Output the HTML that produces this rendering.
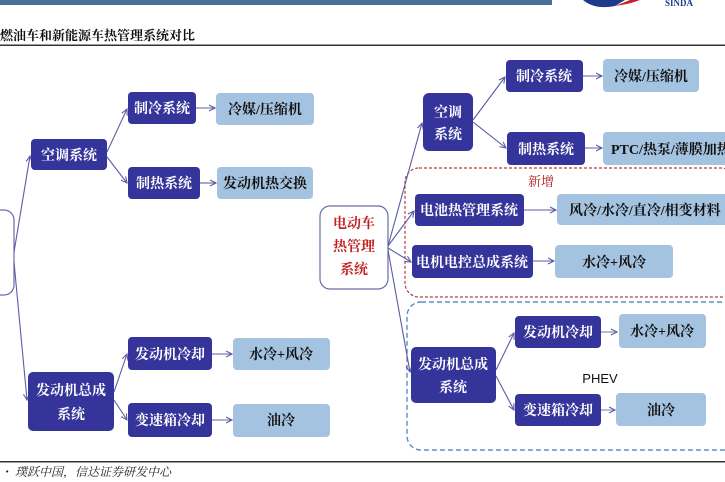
<!DOCTYPE html>
<html><head><meta charset="utf-8"><style>
html,body{margin:0;padding:0;background:#fff;width:725px;height:482px;overflow:hidden}
svg{display:block}
text{font-family:"Liberation Serif","Noto Serif CJK SC","Noto Sans CJK SC",serif;font-size:14px}
.d{fill:#34349a}
.l{fill:#a4c3e0}
.w{fill:#fff;font-weight:bold}
.k{fill:#111;font-weight:bold}
.c{stroke:#5c5ca6;stroke-width:1.1;fill:none;marker-end:url(#a)}
</style></head><body>
<svg width="725" height="482" viewBox="0 0 725 482" xmlns="http://www.w3.org/2000/svg">
<defs><marker id="a" markerWidth="8" markerHeight="8" refX="7" refY="4" orient="auto" markerUnits="userSpaceOnUse"><path d="M1,1 L7,4 L1,7" fill="none" stroke="#5c5ca6" stroke-width="1.1"/></marker></defs>
<rect x="0" y="0" width="552" height="5" fill="#4a6e9a"/>
<path d="M583,0 Q595,10 615,6 L625,0 Z" fill="#1e3a8a"/>
<path d="M615,6 Q630,4 640,0 L630,0 Z" fill="#c8202a"/>
<text x="665" y="6" style="font-size:9px;fill:#1e3a8a;font-weight:bold">SINDA</text>
<text x="0" y="40" style="font-size:13px;fill:#111;font-weight:bold">燃油车和新能源车热管理系统对比</text>
<rect x="0" y="44.5" width="725" height="1.5" fill="#333"/>
<rect x="0" y="461" width="725" height="1.5" fill="#333"/>
<text x="0" y="476" style="font-size:12px;fill:#222;font-style:italic">・ 璞跃中国，信达证券研发中心</text>

<!-- left -->
<rect x="-20" y="210" width="34" height="85" rx="10" fill="#fff" stroke="#6a6aa8" stroke-width="1.2"/>
<path class="c" d="M14,252 L30,156"/>
<path class="c" d="M14,262 L27,400"/>
<rect class="d" x="31" y="139" width="76" height="31" rx="4"/><text class="w" x="69" y="160" text-anchor="middle">空调系统</text>
<path class="c" d="M107,152 L127,109"/>
<path class="c" d="M107,157 L127,183"/>
<rect class="d" x="128" y="92" width="68" height="32" rx="4"/><text class="w" x="162" y="113" text-anchor="middle">制冷系统</text>
<rect class="d" x="128" y="167" width="72" height="32" rx="4"/><text class="w" x="164" y="188" text-anchor="middle">制热系统</text>
<path class="c" d="M196,108 L215,108"/>
<path class="c" d="M200,183 L216,183"/>
<rect class="l" x="216" y="93" width="98" height="32" rx="4"/><text class="k" x="265" y="114" text-anchor="middle">冷媒/压缩机</text>
<rect class="l" x="217" y="167" width="96" height="32" rx="4"/><text class="k" x="265" y="188" text-anchor="middle">发动机热交换</text>
<rect class="d" x="28" y="372" width="86" height="59" rx="5"/><text class="w" x="71" y="395" text-anchor="middle">发动机总成</text><text class="w" x="71" y="419" text-anchor="middle">系统</text>
<path class="c" d="M114,392 L127,354"/>
<path class="c" d="M114,400 L127,420"/>
<rect class="d" x="128" y="337" width="84" height="33" rx="4"/><text class="w" x="170" y="359" text-anchor="middle">发动机冷却</text>
<rect class="d" x="128" y="403" width="84" height="34" rx="4"/><text class="w" x="170" y="425" text-anchor="middle">变速箱冷却</text>
<path class="c" d="M212,354 L232,354"/>
<path class="c" d="M212,420 L232,420"/>
<rect class="l" x="233" y="338" width="97" height="32" rx="4"/><text class="k" x="281" y="359" text-anchor="middle">水冷+风冷</text>
<rect class="l" x="233" y="404" width="97" height="33" rx="4"/><text class="k" x="281" y="425" text-anchor="middle">油冷</text>

<!-- right -->
<rect x="405" y="168" width="330" height="129" rx="14" fill="none" stroke="#b04040" stroke-width="1.2" stroke-dasharray="3,2"/>
<rect x="407" y="302" width="330" height="148" rx="14" fill="none" stroke="#5b8ec8" stroke-width="1.4" stroke-dasharray="5,3"/>
<text x="541" y="186" text-anchor="middle" style="fill:#b02020;font-size:13px">新增</text>
<text x="600" y="383" text-anchor="middle" style="font-family:'Liberation Sans',sans-serif;font-size:13px;fill:#111">PHEV</text>
<rect x="320" y="206" width="68" height="83" rx="10" fill="#fff" stroke="#6a6aa8" stroke-width="1.2"/>
<text x="354" y="228" text-anchor="middle" style="fill:#c02020;font-weight:bold">电动车</text>
<text x="354" y="251" text-anchor="middle" style="fill:#c02020;font-weight:bold">热管理</text>
<text x="354" y="274" text-anchor="middle" style="fill:#c02020;font-weight:bold">系统</text>
<path class="c" d="M388,246 L422,123"/>
<path class="c" d="M388,246 L414,211"/>
<path class="c" d="M388,248 L411,262"/>
<path class="c" d="M388,250 L410,372"/>
<rect class="d" x="423" y="93" width="50" height="58" rx="6"/><text class="w" x="448" y="117" text-anchor="middle">空调</text><text class="w" x="448" y="139" text-anchor="middle">系统</text>
<path class="c" d="M473,120 L505,77"/>
<path class="c" d="M473,122 L506,148"/>
<rect class="d" x="506" y="60" width="77" height="32" rx="4"/><text class="w" x="544" y="81" text-anchor="middle">制冷系统</text>
<rect class="d" x="507" y="132" width="78" height="33" rx="4"/><text class="w" x="546" y="154" text-anchor="middle">制热系统</text>
<path class="c" d="M583,76 L602,76"/>
<path class="c" d="M585,148 L602,148"/>
<rect class="l" x="603" y="59" width="96" height="33" rx="4"/><text class="k" x="651" y="81" text-anchor="middle">冷媒/压缩机</text>
<rect class="l" x="603" y="132" width="130" height="33" rx="4"/><text class="k" x="611" y="154">PTC/热泵/薄膜加热</text>
<rect class="d" x="415" y="194" width="109" height="32" rx="4"/><text class="w" x="469" y="215" text-anchor="middle">电池热管理系统</text>
<path class="c" d="M524,210 L556,210"/>
<rect class="l" x="557" y="194" width="175" height="31" rx="4"/><text class="k" x="569" y="215">风冷/水冷/直冷/相变材料</text>
<rect class="d" x="412" y="245" width="121" height="33" rx="4"/><text class="w" x="472" y="267" text-anchor="middle">电机电控总成系统</text>
<path class="c" d="M533,261 L554,261"/>
<rect class="l" x="555" y="245" width="118" height="33" rx="4"/><text class="k" x="614" y="267" text-anchor="middle">水冷+风冷</text>
<rect class="d" x="411" y="347" width="85" height="56" rx="5"/><text class="w" x="453" y="369" text-anchor="middle">发动机总成</text><text class="w" x="453" y="392" text-anchor="middle">系统</text>
<path class="c" d="M496,370 L514,333"/>
<path class="c" d="M496,376 L514,410"/>
<rect class="d" x="515" y="316" width="86" height="32" rx="4"/><text class="w" x="558" y="337" text-anchor="middle">发动机冷却</text>
<rect class="d" x="515" y="394" width="86" height="32" rx="4"/><text class="w" x="558" y="415" text-anchor="middle">变速箱冷却</text>
<path d="M601,332 L617,332" stroke="#9ab" stroke-width="1.5" marker-end="url(#a)"/>
<path d="M601,410 L615,410" stroke="#9ab" stroke-width="1.5" marker-end="url(#a)"/>
<rect class="l" x="619" y="314" width="87" height="34" rx="4"/><text class="k" x="662" y="336" text-anchor="middle">水冷+风冷</text>
<rect class="l" x="616" y="393" width="90" height="33" rx="4"/><text class="k" x="661" y="415" text-anchor="middle">油冷</text>
</svg>
</body></html>
